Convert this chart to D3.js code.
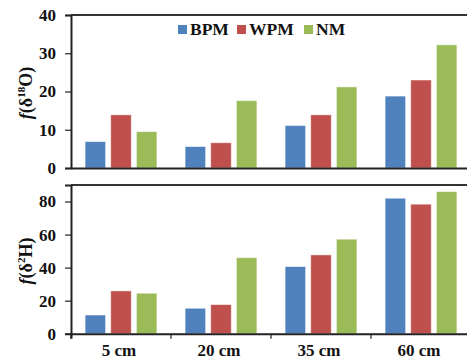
<!DOCTYPE html>
<html>
<head>
<meta charset="utf-8">
<script src="https://cdn.jsdelivr.net/npm/d3@7/dist/d3.min.js"></script>
<style>
  body { margin: 0; background: #fff; }
  svg text { font-family: 'Liberation Serif', 'Times New Roman', Times, 'DejaVu Serif', serif !important; }
</style>
</head>
<body>
<div id="chart"></div>
<script>
// données
const categories = ['5 cm', '20 cm', '35 cm', '60 cm'];
const seriesNames = ['BPM', 'WPM', 'NM'];
const colors = ['#4F81BD', '#C0504D', '#9BBB59'];

const oxygenBPM = [6.9, 5.6, 11.1, 18.8];
const oxygenWPM = [13.9, 6.6, 13.9, 23.0];
const oxygenNM  = [9.5, 17.6, 21.2, 32.2];

const hydroBPM = [11.3, 15.4, 40.6, 82.0];
const hydroWPM = [25.9, 17.6, 47.7, 78.4];
const hydroNM  = [24.5, 46.0, 57.2, 86.0];

const oxygenTicks = [0, 10, 20, 30, 40];
const hydroTicks  = [0, 20, 40, 60, 80];

const W = 467, H = 360;
const svg = d3.select('#chart').append('svg')
    .attr('width', W).attr('height', H);

const x0 = d3.scaleBand().domain(categories).range([71, 471]).paddingInner(0).paddingOuter(0);
const x1 = d3.scaleBand().domain(seriesNames).range([0, 100]).paddingInner(0.2).paddingOuter(0.55);

function panel(cfg) {
    const y = d3.scaleLinear().domain(cfg.domain).range([cfg.bottom, cfg.top]);
    const g = svg.append('g');

    // bordure haute
    g.append('line')
        .attr('x1', 71).attr('x2', 471)
        .attr('y1', cfg.top).attr('y2', cfg.top)
        .attr('stroke', '#333').attr('stroke-width', 2);

    // barres
    const rows = categories.map((c, i) => ({
        cat: c,
        vals: cfg.series.map((s, k) => ({ name: seriesNames[k], v: s[i], k }))
    }));
    g.selectAll('g.grp').data(rows).join('g')
        .attr('transform', d => `translate(${x0(d.cat)},0)`)
        .selectAll('rect').data(d => d.vals).join('rect')
        .attr('x', d => x1(d.name))
        .attr('width', x1.bandwidth())
        .attr('y', d => y(d.v))
        .attr('height', d => y(0) - y(d.v))
        .attr('fill', d => colors[d.k])
        .attr('stroke', '#fff').attr('stroke-opacity', 0.6).attr('stroke-width', 0.8);

    // axe Y
    const ay = g.append('g')
        .attr('transform', 'translate(71,0)')
        .call(d3.axisLeft(y).tickValues(cfg.ticks).tickSize(6).tickPadding(9));
    ay.select('.domain').attr('stroke', '#222').attr('stroke-width', 2);
    ay.selectAll('.tick line').attr('stroke', '#222').attr('stroke-width', 1.2);
    ay.selectAll('.tick text')
        .attr('font-size', 17).attr('font-weight', 'bold').attr('fill', '#111');

    // axe X (ligne du zéro)
    const ax = g.append('g')
        .attr('transform', `translate(0,${y(0)})`)
        .call(d3.axisBottom(x0).tickSize(cfg.showX ? 5 : 0).tickFormat(cfg.showX ? null : ''));
    ax.select('.domain').attr('stroke', '#222').attr('stroke-width', 2);
    ax.selectAll('.tick').attr('transform', d => `translate(${x0(d) + x0.bandwidth() / 2 - 2},0)`);
    ax.selectAll('.tick line').remove();
    if (cfg.showX) {
        const edges = [71].concat(categories.slice(1).map(c => x0(c)));
        ax.selectAll('line.edge').data(edges).join('line')
            .attr('x1', d => d).attr('x2', d => d)
            .attr('y1', 0).attr('y2', 5)
            .attr('stroke', '#222').attr('stroke-width', 1.2);
        ax.selectAll('.tick text')
            .attr('y', 22).attr('dy', 0)
            .attr('font-size', 17).attr('font-weight', 'bold').attr('fill', '#111');
    }

    // titre Y
    const t = g.append('text')
        .attr('transform', `translate(32,${cfg.titleY}) rotate(-90)`)
        .attr('text-anchor', 'middle')
        .attr('font-size', 18).attr('font-weight', 'bold').attr('fill', '#111');
    t.append('tspan').attr('font-style', 'italic').text('f');
    t.append('tspan').text('(δ');
    t.append('tspan').attr('font-size', 11).attr('dy', -7).text(cfg.sup);
    t.append('tspan').attr('dy', 7).text(cfg.elem + ')');
    return g;
}

panel({ domain: [0, 40], top: 15, bottom: 168, ticks: oxygenTicks,
        series: [oxygenBPM, oxygenWPM, oxygenNM], showX: false,
        titleY: 93, sup: '18', elem: 'O' });
panel({ domain: [0, 90], top: 185, bottom: 333.7, ticks: hydroTicks,
        series: [hydroBPM, hydroWPM, hydroNM], showX: true,
        titleY: 261, sup: '2', elem: 'H' });

// légende
const legendX = [178, 237, 304];
const leg = svg.append('g');
seriesNames.forEach((n, i) => {
    leg.append('rect')
        .attr('x', legendX[i]).attr('y', 25)
        .attr('width', 9).attr('height', 9)
        .attr('fill', colors[i]);
    leg.append('text')
        .attr('x', legendX[i] + 12).attr('y', 35)
        .attr('font-size', 17.5).attr('font-weight', 'bold').attr('fill', '#111')
        .text(n);
});
</script>
</body>
</html>
